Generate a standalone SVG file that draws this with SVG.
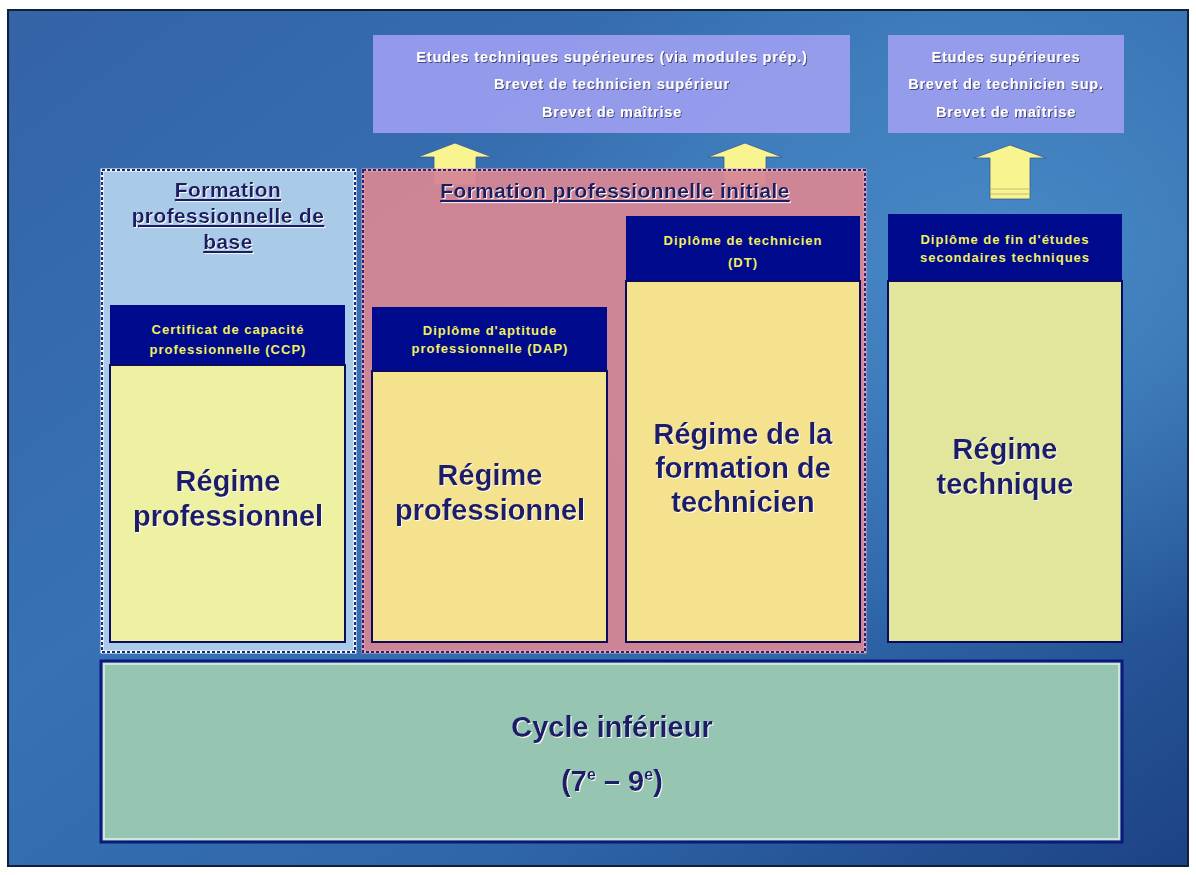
<svg xmlns="http://www.w3.org/2000/svg" width="1196" height="875" viewBox="0 0 1196 875">
<defs>
<linearGradient id="bg" x1="0" y1="0" x2="1" y2="1">
<stop offset="0" stop-color="#3463a6"/>
<stop offset="0.4" stop-color="#3772b4"/>
<stop offset="0.7" stop-color="#2f66a8"/>
<stop offset="1" stop-color="#1c4284"/>
</linearGradient>
<radialGradient id="glow" cx="0.85" cy="0.3" r="0.45">
<stop offset="0" stop-color="#5aa2da" stop-opacity="0.55"/>
<stop offset="1" stop-color="#5aa2da" stop-opacity="0"/>
</radialGradient>
<filter id="sh" x="-5%" y="-20%" width="110%" height="140%">
<feDropShadow dx="1" dy="1" stdDeviation="0.6" flood-color="#303060" flood-opacity="0.8"/>
</filter>
<filter id="shw" x="-5%" y="-20%" width="110%" height="140%">
<feDropShadow dx="1" dy="1" stdDeviation="0.5" flood-color="#ffffff" flood-opacity="0.9"/>
</filter>
</defs>
<style>
text{font-family:"Liberation Sans",Arial,sans-serif;font-weight:bold;text-anchor:middle}
.top{fill:#ffffff;font-size:14.5px;letter-spacing:0.8px;filter:url(#sh)}
.title{fill:#1a1a62;font-size:21px;letter-spacing:0.4px;text-decoration:underline;filter:url(#shw)}
.hdr{fill:#f2f060;font-size:13px;letter-spacing:1px}
.big{fill:#1a1a68;font-size:29px;filter:url(#shw)}
.navy{fill:#000a8c}
.arrow{fill:#f8f590;stroke:#3a5a90;stroke-width:0.8}
.purple{fill:#9c9ef0;fill-opacity:0.92}
</style>
<rect x="0" y="0" width="1196" height="875" fill="#ffffff"/>
<rect x="8" y="10" width="1180" height="856" fill="url(#bg)"/>
<rect x="8" y="10" width="1180" height="856" fill="url(#glow)"/>
<rect x="8" y="10" width="1180" height="856" fill="none" stroke="#10203c" stroke-width="2"/>

<g id="top-left">
<rect class="purple" x="373" y="35" width="477" height="98"/>
<text class="top" x="612" y="62">Etudes techniques supérieures (via modules prép.)</text>
<text class="top" x="612" y="89">Brevet de technicien supérieur</text>
<text class="top" x="612" y="117">Brevet de maîtrise</text>
</g>
<g id="top-right">
<rect class="purple" x="888" y="35" width="236" height="98"/>
<text class="top" x="1006" y="62">Etudes supérieures</text>
<text class="top" x="1006" y="89">Brevet de technicien sup.</text>
<text class="top" x="1006" y="117">Brevet de maîtrise</text>
</g>

<g id="connectors">
<path class="arrow" d="M455 143 L492 157 L476 157 L476 185 L434 185 L434 157 L418 157 Z"/>
<path class="arrow" d="M745 143 L782 157 L766 157 L766 185 L724 185 L724 157 L708 157 Z"/>
<path class="arrow" d="M1010 145 L1046 158 L1030 158 L1030 199 L990 199 L990 158 L974 158 Z"/>
<path d="M991 189 H1029 M991 194 H1029" stroke="#c0c070" stroke-width="1.2"/>
</g>

<g id="fp-base">
<rect x="102" y="170" width="253" height="482" fill="#aacbe8" stroke="#ffffff" stroke-width="3"/>
<rect x="102" y="170" width="253" height="482" fill="none" stroke="#1a2a80" stroke-width="2" stroke-dasharray="3 2"/>
<text class="title" x="228" y="197">Formation</text>
<text class="title" x="228" y="223">professionnelle de</text>
<text class="title" x="228" y="249">base</text>
</g>
<g id="fp-initiale">
<rect x="363" y="170" width="502" height="482" fill="#d68694" fill-opacity="0.95" stroke="#f0a0a8" stroke-width="3"/>
<rect x="363" y="170" width="502" height="482" fill="none" stroke="#1a2a80" stroke-width="2" stroke-dasharray="3 2"/>
<text class="title" x="615" y="198">Formation professionnelle initiale</text>
</g>

<g id="ccp">
<rect class="navy" x="110" y="305" width="235" height="60"/>
<rect x="110" y="365" width="235" height="277" fill="#eef1a2" stroke="#0a0a60" stroke-width="2"/>
<text class="hdr" x="228" y="334">Certificat de capacité</text>
<text class="hdr" x="228" y="354">professionnelle (CCP)</text>
<text class="big" x="228" y="491">Régime</text>
<text class="big" x="228" y="526">professionnel</text>
</g>

<g id="dap">
<rect class="navy" x="372" y="307" width="235" height="63"/>
<rect x="372" y="371" width="235" height="271" fill="#f5e28e" stroke="#0a0a60" stroke-width="2"/>
<text class="hdr" x="490" y="335">Diplôme d'aptitude</text>
<text class="hdr" x="490" y="353">professionnelle (DAP)</text>
<text class="big" x="490" y="485">Régime</text>
<text class="big" x="490" y="520">professionnel</text>
</g>

<g id="dt">
<rect class="navy" x="626" y="216" width="234" height="64"/>
<rect x="626" y="281" width="234" height="361" fill="#f5e28e" stroke="#0a0a60" stroke-width="2"/>
<text class="hdr" x="743" y="245">Diplôme de technicien</text>
<text class="hdr" x="743" y="267">(DT)</text>
<text class="big" x="743" y="444">Régime de la</text>
<text class="big" x="743" y="478">formation de</text>
<text class="big" x="743" y="512">technicien</text>
</g>

<g id="technique">
<rect class="navy" x="888" y="214" width="234" height="66"/>
<rect x="888" y="281" width="234" height="361" fill="#e2e69c" stroke="#0a0a60" stroke-width="2"/>
<text class="hdr" x="1005" y="244">Diplôme de fin d'études</text>
<text class="hdr" x="1005" y="262">secondaires techniques</text>
<text class="big" x="1005" y="459">Régime</text>
<text class="big" x="1005" y="494">technique</text>
</g>

<g id="cycle">
<rect x="101" y="661" width="1021" height="181" fill="#96c6b2" stroke="#0a1880" stroke-width="3"/>
<rect x="104" y="664" width="1015" height="175" fill="none" stroke="#dff0ea" stroke-width="1.5"/>
<text class="big" x="612" y="737">Cycle inférieur</text>
<text class="big" x="612" y="791">(7<tspan font-size="16" dy="-11">e</tspan><tspan dy="11"> – 9</tspan><tspan font-size="16" dy="-11">e</tspan><tspan dy="11">)</tspan></text>
</g>
</svg>
